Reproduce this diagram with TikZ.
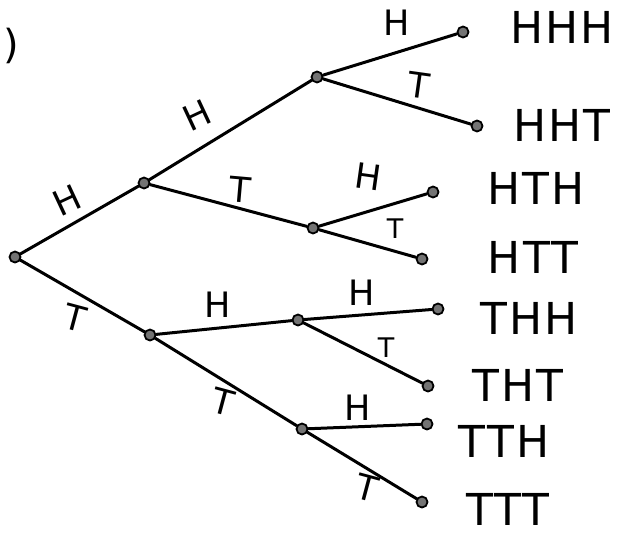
\documentclass[tikz,border=0pt]{standalone}
\usepackage{fontspec}
\newfontfamily\hand[LetterSpace=5]{DejaVu Sans}
\newfontfamily\handlbl{DejaVu Sans}
\begin{document}
\begin{tikzpicture}[x=1pt,y=-1pt,
  dot/.style={circle,draw=black,fill=black!55,line width=1.8pt,minimum size=11pt,inner sep=0pt},
  edge/.style={line width=3pt,line cap=round,black},
  outcome/.style={font=\hand\fontsize{44}{44}\selectfont,inner sep=0pt,anchor=center},
  blbl/.style={font=\handlbl\fontsize{35}{35}\selectfont,inner sep=0pt,anchor=center}]
\useasboundingbox (0,0) rectangle (624,535);
% fragment at left edge
\node[font=\handlbl\fontsize{40}{40}\selectfont,inner sep=0pt] (paren) at (11,46) {)};
% nodes
\node[dot] (r) at (15,257) {};
\node[dot] (h) at (144,183) {};
\node[dot] (t) at (150,335) {};
\node[dot] (hh) at (317,77) {};
\node[dot] (ht) at (313,228) {};
\node[dot] (th) at (298,320) {};
\node[dot] (tt) at (302,429) {};
\node[dot] (hhh) at (463,32) {};
\node[dot] (hht) at (477,126) {};
\node[dot] (hth) at (433,192) {};
\node[dot] (htt) at (422,259) {};
\node[dot] (thh) at (438,309) {};
\node[dot] (tht) at (428,386) {};
\node[dot] (tth) at (427,424) {};
\node[dot] (ttt) at (422,502) {};
% edges
\draw[edge] (r) -- (h);
\draw[edge] (r) -- (t);
\draw[edge] (h) -- (hh);
\draw[edge] (h) -- (ht);
\draw[edge] (t) -- (th);
\draw[edge] (t) -- (tt);
\draw[edge] (hh) -- (hhh);
\draw[edge] (hh) -- (hht);
\draw[edge] (ht) -- (hth);
\draw[edge] (ht) -- (htt);
\draw[edge] (th) -- (thh);
\draw[edge] (th) -- (tht);
\draw[edge] (tt) -- (tth);
\draw[edge] (tt) -- (ttt);
% branch labels
\node[blbl,rotate=25] (l1) at (67,200) {H};
\node[blbl,rotate=-15] (l2) at (75,318) {T};
\node[blbl,rotate=25] (l3) at (197,115) {H};
\node[blbl,rotate=-5] (l4) at (240,190) {T};
\node[blbl] (l5) at (218,305) {H};
\node[blbl,rotate=-15] (l6) at (223,402) {T};
\node[blbl] (l7) at (397,23) {H};
\node[blbl,rotate=-8] (l8) at (419,85) {T};
\node[blbl,rotate=-8] (l9) at (368,177) {H};
\node[blbl,font=\handlbl\fontsize{27}{27}\selectfont] (l10) at (395,229) {T};
\node[blbl] (l11) at (362,293) {H};
\node[blbl,font=\handlbl\fontsize{27}{27}\selectfont] (l12) at (386,348) {T};
\node[blbl] (l13) at (358,408) {H};
\node[blbl,rotate=-15] (l14) at (367,488) {T};
% outcomes
\node[outcome] (o1) at (562,27) {HHH};
\node[outcome] (o2) at (562,125) {HHT};
\node[outcome] (o3) at (536,188) {HTH};
\node[outcome] (o4) at (533,257) {HTT};
\node[outcome] (o5) at (529,318) {THH};
\node[outcome] (o6) at (518,385) {THT};
\node[outcome] (o7) at (504,441) {TTH};
\node[outcome] (o8) at (508,509) {TTT};
\end{tikzpicture}
\end{document}
